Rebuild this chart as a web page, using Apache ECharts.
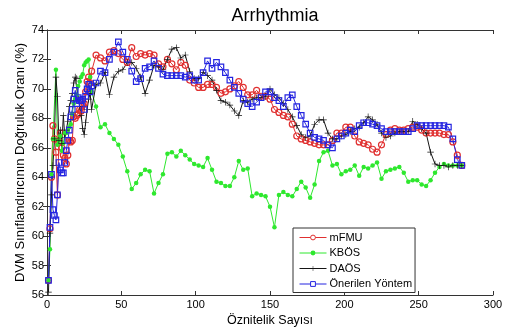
<!DOCTYPE html>
<html><head><meta charset="utf-8">
<script src="https://cdn.jsdelivr.net/npm/echarts@6/dist/echarts.min.js"></script>
<style>html,body{margin:0;padding:0;background:#fff}#c{width:506px;height:332px}</style>
</head><body><div id="c"></div>
<script>
const titleText = 'Arrhythmia';
const xName = 'Öznitelik Sayısı';
const yName = 'DVM Sınıflandırıcının Doğruluk Oranı (%)';
const seriesNames = ['mFMU', 'KBÖS', 'DAÖS', 'Önerilen Yöntem'];

const xs = [1,2,3,4,5,6,7,8,9,10,11,12,13,14,15,16,17,18,19,20,21,22,23,24,25,26,27,28,29,30,
33,36,39,42,45,48,51,54,57,60,63,66,69,72,75,78,81,84,87,90,93,96,99,102,105,108,111,114,117,120,
123,126,129,132,135,138,141,144,147,150,153,156,159,162,165,168,171,174,177,180,183,186,189,192,195,198,201,204,207,210,
213,216,219,222,225,228,231,234,237,240,243,246,249,252,255,258,261,264,267,270,273,276,279];

const mfmu = [57.0,60.5,64.0,67.5,66.6,65.7,62.8,66.4,67.0,66.0,
65.5,65.3,64.9,65.5,66.5,66.4,66.5,68.1,68.0,68.2,
68.3,68.6,68.5,68.9,69.0,69.8,70.5,70.8,70.4,71.2,
72.3,72.1,71.9,72.5,72.6,72.4,72.0,71.8,72.8,72.2,
72.4,72.3,72.4,72.3,71.7,71.5,72.0,71.7,71.3,71.8,
71.6,70.6,70.4,70.1,70.1,70.3,70.3,70.1,69.7,69.8,
70.0,70.2,70.5,70.1,69.6,69.6,69.9,69.5,69.5,69.3,
68.6,68.4,68.2,68.1,67.6,66.8,66.6,66.5,66.4,66.3,
66.2,66.2,66.2,66.5,67.0,67.0,67.4,67.4,66.8,66.4,
66.3,66.2,65.9,65.7,66.2,66.9,67.2,67.3,67.2,67.2,
67.3,67.4,67.4,67.2,67.0,67.0,67.0,67.0,66.9,66.9,
66.4,65.5,64.8];

const kbos = [57.0,59.1,64.2,66.6,66.6,71.3,66.2,66.5,66.8,65.8,
66.3,67.0,67.0,67.2,67.4,67.6,68.3,69.0,69.3,69.6,
70.2,70.5,70.8,71.0,71.6,71.8,71.9,72.0,70.8,69.8,
68.8,67.4,67.6,67.0,66.6,66.2,65.4,64.4,63.2,63.6,
64.2,64.5,64.4,62.9,63.6,64.2,65.6,65.7,65.4,65.8,
65.5,65.2,64.9,64.8,64.7,65.3,64.5,63.7,63.6,63.4,
63.4,64.0,65.1,64.5,64.6,62.7,62.9,62.8,62.7,62.0,
60.6,62.8,63.0,62.8,62.7,63.2,63.7,63.3,62.6,63.5,
65.1,65.7,65.8,64.8,64.9,64.2,64.4,64.5,64.8,64.1,
64.7,64.6,64.8,65.0,63.9,64.4,64.5,64.6,64.7,64.3,
63.7,63.8,63.8,63.5,63.4,63.8,64.3,64.7,64.9,64.8,
64.8,64.8,64.8];

const daos = [56.2,60.2,62.8,64.8,66.6,70.8,69.5,66.5,67.2,66.3,
68.2,66.7,67.2,67.8,68.8,69.2,69.7,70.4,70.8,70.7,
69.3,68.8,68.2,67.3,66.9,67.7,68.6,69.3,69.7,68.6,
70.3,70.4,71.1,69.6,70.8,71.2,71.3,71.8,71.8,71.4,
70.8,69.7,70.6,71.6,71.5,71.3,72.0,72.7,72.8,72.1,
72.3,71.2,70.7,70.7,71.1,70.9,70.6,69.9,69.2,69.1,
68.9,68.5,68.2,69.2,69.1,69.3,69.4,69.4,69.5,70.0,
69.6,69.4,69.0,68.6,68.1,67.5,66.9,66.7,66.8,67.6,
67.9,67.9,67.0,66.6,66.6,66.8,66.9,67.1,67.3,67.4,
67.7,68.1,67.9,67.6,67.0,66.7,66.8,67.0,67.1,67.1,
67.1,67.8,67.6,67.3,67.0,65.7,64.9,64.8,64.8,64.7,
64.8,64.8,64.8];

const onerilen = [57.0,60.6,64.2,61.8,61.4,61.1,62.8,65.0,64.5,64.3,
64.3,65.0,65.8,66.5,67.2,68.1,68.6,69.3,69.9,69.0,
69.4,69.2,69.2,69.3,68.6,69.5,70.0,70.3,69.8,70.2,
70.4,71.2,71.1,72.0,72.5,73.2,72.5,72.0,71.2,70.5,
70.7,71.4,71.5,71.9,71.4,71.0,70.9,70.9,70.9,70.9,
70.8,70.9,70.6,70.6,71.1,71.9,71.4,71.8,71.5,71.1,
70.6,70.1,69.7,69.3,69.0,68.8,69.1,69.4,69.8,69.8,
69.4,69.2,68.8,69.4,69.6,68.8,68.2,67.6,67.0,66.7,
66.6,66.5,66.2,66.0,66.6,66.8,67.0,67.2,67.1,67.5,
67.7,67.7,67.6,67.5,67.3,67.1,67.1,67.1,67.1,67.1,
67.1,67.3,67.5,67.5,67.5,67.5,67.5,67.5,67.5,67.4,
66.6,65.2,64.8];

const xTicks = {min: 0, max: 300, interval: 50};
const yTicks = {min: 56, max: 74, interval: 2};

const pair = arr => xs.map((x, i) => [x, arr[i]]);
const font = 'Liberation Sans, Arial, sans-serif';
const plusPath = 'path://M4.5,0h1v4.5h4.5v1h-4.5v4.5h-1v-4.5h-4.5v-1h4.5z';
const cRed = '#e03030', cGreen = '#2ee82e', cBlack = '#151515', cBlue = '#2424e0';
const none = 'rgba(255,255,255,0)';

const chart = echarts.init(document.getElementById('c'), null, {renderer: 'canvas'});
const axisCommon = {
  axisLine: {show: true, lineStyle: {color: '#333', width: 1}},
  axisTick: {show: true, inside: true, length: 4, lineStyle: {color: '#333'}},
  splitLine: {show: false}
};
chart.setOption({
  animation: false,
  backgroundColor: '#fff',
  title: {text: titleText, left: 270, top: 2, textAlign: 'center',
    textStyle: {fontFamily: font, fontSize: 18, fontWeight: 'normal', color: '#000'}},
  grid: {left: 47, right: 13, top: 30, bottom: 34, show: false},
  legend: {
    data: [
      {name: seriesNames[0], itemStyle: {color: '#fff', borderColor: cRed, borderWidth: 1}, lineStyle: {color: cRed, width: 1}},
      {name: seriesNames[1], itemStyle: {color: cGreen, borderWidth: 0}, lineStyle: {color: cGreen, width: 1}},
      {name: seriesNames[2], itemStyle: {color: cBlack, borderWidth: 0}, lineStyle: {color: cBlack, width: 1}},
      {name: seriesNames[3], itemStyle: {color: '#fff', borderColor: cBlue, borderWidth: 1}, lineStyle: {color: cBlue, width: 1}}
    ],
    orient: 'vertical', left: 293, top: 228,
    itemWidth: 27, itemHeight: 6, itemGap: 4.5, padding: [4, 3, 3, 6],
    borderColor: '#333', borderWidth: 1, backgroundColor: '#fff',
    textStyle: {fontFamily: font, fontSize: 11, color: '#000', padding: [0, 0, 0, -2]}
  },
  xAxis: [
    Object.assign({type: 'value', position: 'bottom', min: xTicks.min, max: xTicks.max, interval: xTicks.interval,
      name: xName, nameLocation: 'middle', nameGap: 19, nameMoveOverlap: false,
      nameTextStyle: {fontFamily: font, fontSize: 12.5, color: '#000'},
      axisLabel: {fontFamily: font, fontSize: 11, color: '#000', margin: 4}}, axisCommon),
    Object.assign({type: 'value', position: 'top', min: xTicks.min, max: xTicks.max, interval: xTicks.interval,
      axisLabel: {show: false}}, axisCommon)
  ],
  yAxis: [
    Object.assign({type: 'value', position: 'left', min: yTicks.min, max: yTicks.max, interval: yTicks.interval,
      name: yName, nameLocation: 'middle', nameGap: 20, nameMoveOverlap: false,
      nameTextStyle: {fontFamily: font, fontSize: 13, color: '#000'},
      axisLabel: {fontFamily: font, fontSize: 11, color: '#000', margin: 3}}, axisCommon),
    Object.assign({type: 'value', position: 'right', min: yTicks.min, max: yTicks.max, interval: yTicks.interval,
      axisLabel: {show: false}}, axisCommon)
  ],
  series: [
    {name: seriesNames[0], type: 'line', color: cRed, data: pair(mfmu), symbol: 'circle', symbolSize: 6, showAllSymbol: true,
      lineStyle: {color: cRed, width: 1}, itemStyle: {color: none, borderColor: cRed, borderWidth: 1.2}},
    {name: seriesNames[1], type: 'line', color: cGreen, data: pair(kbos), symbol: 'circle', symbolSize: 4.5, showAllSymbol: true,
      lineStyle: {color: cGreen, width: 1}, itemStyle: {color: cGreen, borderWidth: 0}},
    {name: seriesNames[2], type: 'line', color: cBlack, data: pair(daos), symbol: plusPath, symbolSize: 6.5, showAllSymbol: true,
      lineStyle: {color: cBlack, width: 1}, itemStyle: {color: cBlack, borderWidth: 0}},
    {name: seriesNames[3], type: 'line', color: cBlue, data: pair(onerilen), symbol: 'rect', symbolSize: 5.5, showAllSymbol: true,
      lineStyle: {color: cBlue, width: 1}, itemStyle: {color: none, borderColor: cBlue, borderWidth: 1.2}}
  ]
});
</script></body></html>
